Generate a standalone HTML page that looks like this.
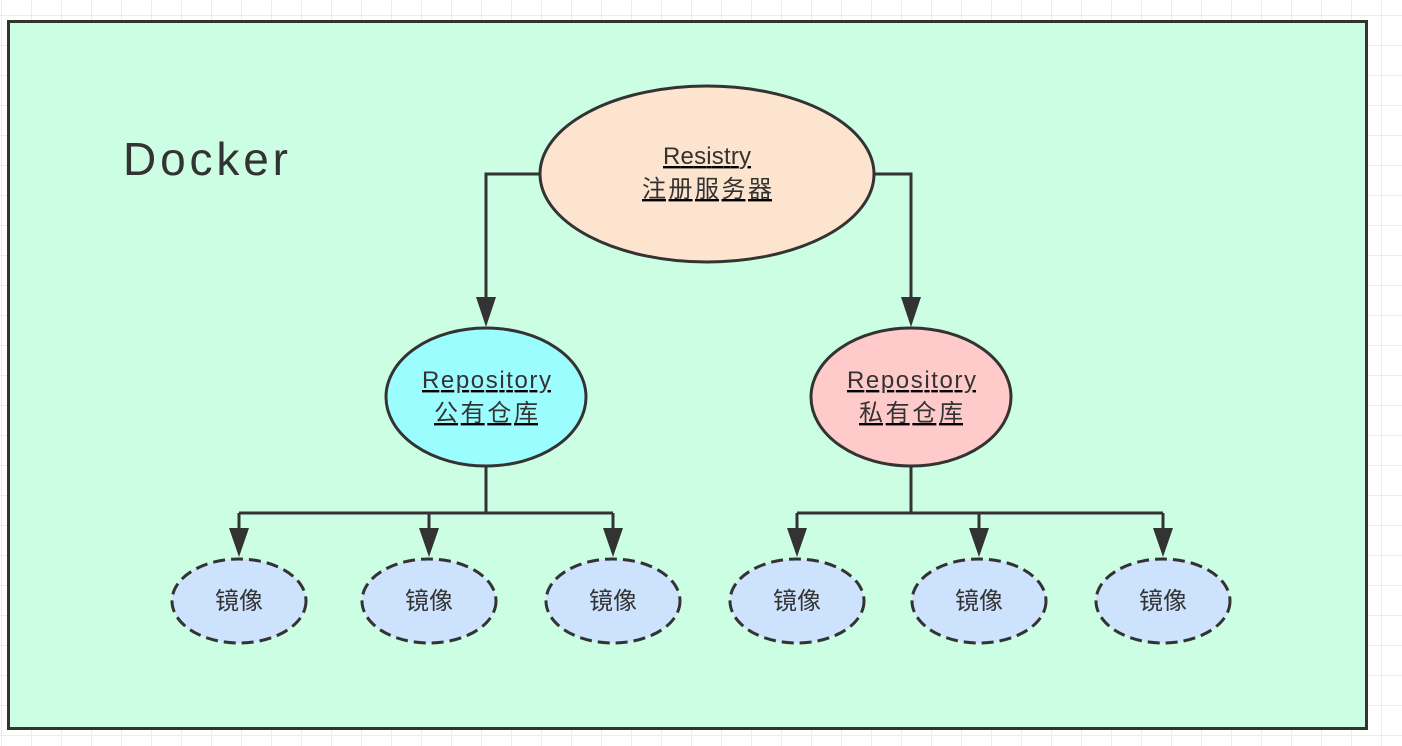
<!DOCTYPE html>
<html><head><meta charset="utf-8"><style>
html,body{margin:0;padding:0;width:1402px;height:746px;overflow:hidden;background:#fff;}
svg{display:block}
text{font-family:"Liberation Sans","Noto Sans CJK SC",sans-serif;fill:#333;}
</style></head><body>
<svg width="1402" height="746" xmlns="http://www.w3.org/2000/svg">
<defs>
<pattern id="g" x="1" y="15" width="30" height="30" patternUnits="userSpaceOnUse">
<path d="M0 0V30M0 0H30" stroke="#e6e6e6" stroke-width="1.5" fill="none"/>
</pattern>
</defs>
<rect width="1402" height="746" fill="url(#g)"/>
<rect x="8.5" y="21.5" width="1358" height="707" fill="#ccfee4" stroke="#333" stroke-width="3"/>
<text x="123" y="175" font-size="46" textLength="165" lengthAdjust="spacing">Docker</text>
<g stroke="#333" stroke-width="3" fill="none">
<path d="M540 174H486V302"/>
<path d="M875 174H911V302"/>
<path d="M486 467V513M239 513H613M239 513V532M429 513V532M613 513V532"/>
<path d="M911 467V513M797 513H1163M797 513V532M979 513V532M1163 513V532"/>
</g>
<g fill="#333">
<path d="M476 297H496L486 327Z"/>
<path d="M901 297H921L911 327Z"/>
<path d="M229 528H249L239 557Z"/>
<path d="M419 528H439L429 557Z"/>
<path d="M603 528H623L613 557Z"/>
<path d="M787 528H807L797 557Z"/>
<path d="M969 528H989L979 557Z"/>
<path d="M1153 528H1173L1163 557Z"/>
</g>
<ellipse cx="707" cy="174" rx="167" ry="88" fill="#fde4ce" stroke="#333" stroke-width="3"/>
<ellipse cx="486" cy="397" rx="100" ry="69" fill="#9cfdfe" stroke="#333" stroke-width="3"/>
<ellipse cx="911" cy="397" rx="100" ry="69" fill="#fecaca" stroke="#333" stroke-width="3"/>
<g fill="#cde3fd" stroke="#333" stroke-width="3" stroke-dasharray="12,6">
<ellipse cx="239" cy="601" rx="67" ry="42"/>
<ellipse cx="429" cy="601" rx="67" ry="42"/>
<ellipse cx="613" cy="601" rx="67" ry="42"/>
<ellipse cx="797" cy="601" rx="67" ry="42"/>
<ellipse cx="979" cy="601" rx="67" ry="42"/>
<ellipse cx="1163" cy="601" rx="67" ry="42"/>
</g>
<g font-size="24" text-decoration="underline">
<text x="663" y="164" textLength="88" lengthAdjust="spacing">Resistry</text>
<text x="642" y="197" textLength="130" lengthAdjust="spacing">注册服务器</text>
<text x="422" y="388" textLength="129" lengthAdjust="spacing">Repository</text>
<text x="434" y="421" textLength="104" lengthAdjust="spacing">公有仓库</text>
<text x="847" y="388" textLength="129" lengthAdjust="spacing">Repository</text>
<text x="859" y="421" textLength="104" lengthAdjust="spacing">私有仓库</text>
</g>
<g font-size="24" text-anchor="middle">
<text x="239" y="609">镜像</text>
<text x="429" y="609">镜像</text>
<text x="613" y="609">镜像</text>
<text x="797" y="609">镜像</text>
<text x="979" y="609">镜像</text>
<text x="1163" y="609">镜像</text>
</g>
</svg>
</body></html>
